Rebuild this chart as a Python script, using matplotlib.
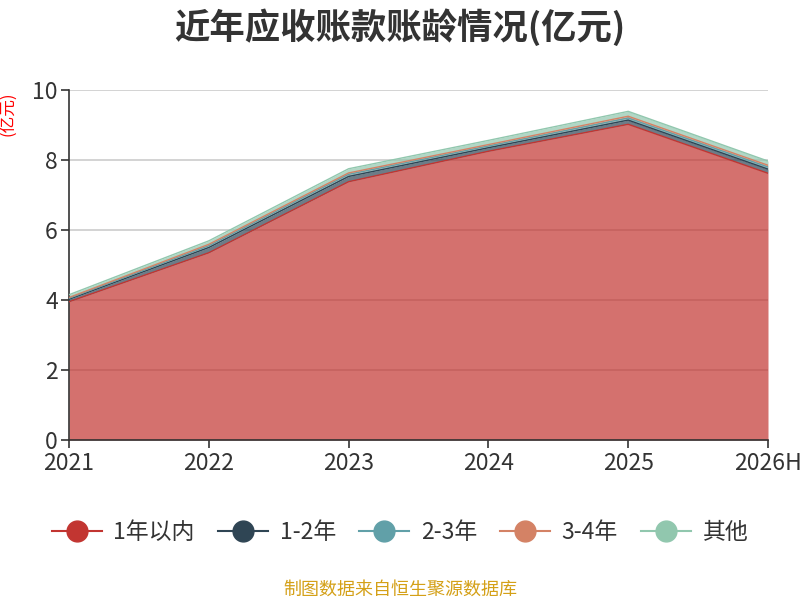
import matplotlib
matplotlib.use("Agg")
import matplotlib.pyplot as plt
import numpy as np

plt.rcParams['font.family'] = ['Noto Sans CJK SC', 'DejaVu Sans']

years = ["2021", "2022", "2023", "2024", "2025", "2026H"]
series_names = ["1年以内", "1-2年", "2-3年", "3-4年", "其他"]
v_1y = [3.95, 5.35, 7.38, 8.25, 9.02, 7.62]
v_1_2 = [0.07, 0.15, 0.15, 0.10, 0.12, 0.12]
v_2_3 = [0.03, 0.05, 0.06, 0.05, 0.06, 0.06]
v_3_4 = [0.02, 0.04, 0.04, 0.04, 0.05, 0.05]
v_other = [0.08, 0.10, 0.12, 0.12, 0.14, 0.12]
colors = ["#c23531", "#2f4554", "#61a0a8", "#d48265", "#91c7ae"]

data = [v_1y, v_1_2, v_2_3, v_3_4, v_other]

fig = plt.figure(figsize=(8, 6), dpi=100)
ax = fig.add_axes([0.08625, 0.2667, 0.87375, 0.5833])

x = np.arange(len(years))
base = np.zeros(len(years))
for name, vals, c in zip(series_names, data, colors):
    top = base + np.array(vals)
    ax.fill_between(x, base, top, color=c, alpha=0.7, linewidth=0, zorder=2)
    ax.plot(x, top, color=c, linewidth=1, zorder=3)
    base = top

ax.set_xlim(0, len(years) - 1)
ax.set_ylim(0, 10)
ax.set_yticks([0, 2, 4, 6, 8, 10])
ax.set_xticks(x)
ax.set_xticklabels(years)
ax.yaxis.grid(True, color="#cccccc", linewidth=1.2, zorder=0)
ax.set_axisbelow(True)
for s in ["top", "right"]:
    ax.spines[s].set_visible(False)
for s in ["left", "bottom"]:
    ax.spines[s].set_color("#333333")
    ax.spines[s].set_linewidth(1.2)
ax.tick_params(axis="both", colors="#333333", labelsize=16.5, length=6, width=1.2)
ax.tick_params(axis="x", pad=3)
ax.tick_params(axis="y", pad=2)
for lbl in ax.get_xticklabels() + ax.get_yticklabels():
    lbl.set_color("#333333")

fig.text(0.5, 0.955, "近年应收账款账龄情况(亿元)", ha="center", va="center",
         fontsize=25.5, fontweight="bold", color="#333333")
fig.text(0.011, 0.81, "(亿元)", rotation=90, ha="center", va="center",
         fontsize=12, color="red")

handles = []
for name, c in zip(series_names, colors):
    h, = ax.plot([], [], color=c, marker="o", markersize=15, linewidth=1.5)
    handles.append(h)
fig.legend(handles, series_names, loc="center", bbox_to_anchor=(0.5, 0.112), ncol=5,
           frameon=False, fontsize=16.5, handlelength=2.2, handletextpad=0.5,
           columnspacing=1.0, labelcolor="#333333")

fig.text(0.5, 0.018, "制图数据来自恒生聚源数据库", ha="center", va="center",
         fontsize=13, color="#d4a017")

fig.savefig("out.png", dpi=100)
